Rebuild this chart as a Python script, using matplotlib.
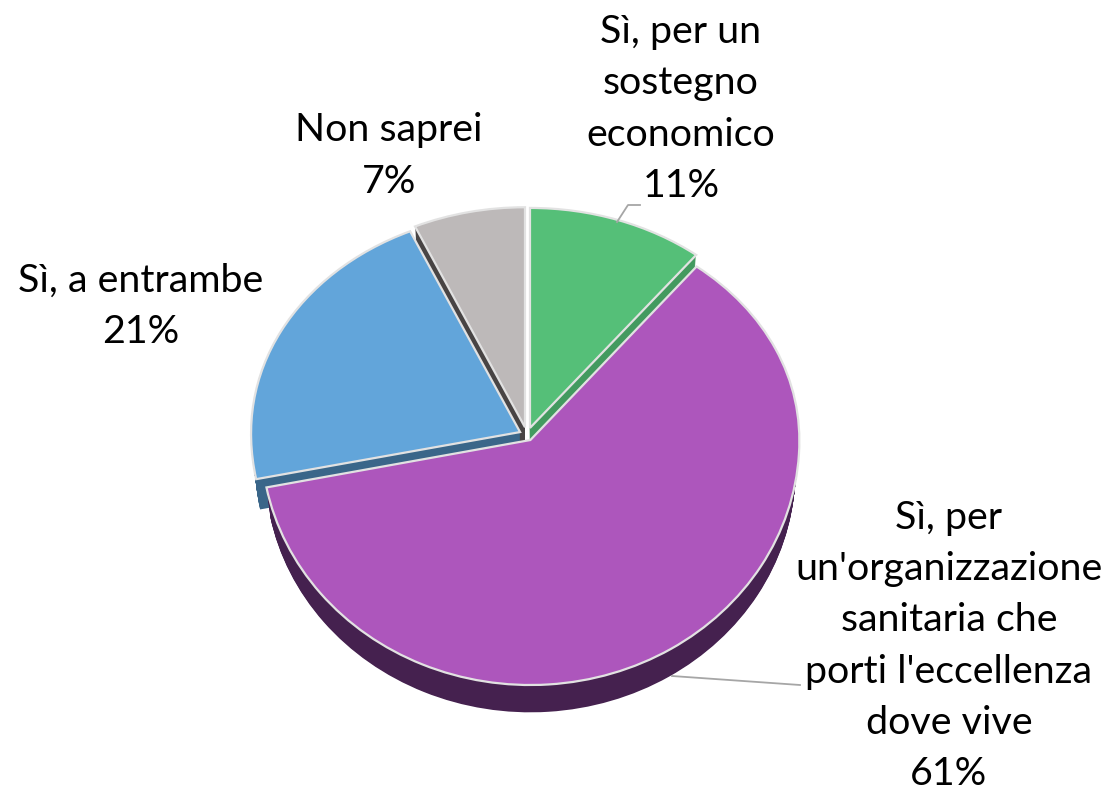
"""Exploded 3D-look pie chart, drawn as stacked flat pies on a warped y axis."""

import matplotlib

matplotlib.use("Agg")
import matplotlib.pyplot as plt
import numpy as np
from matplotlib.lines import Line2D

W, H = 1109, 791

categories = [
    "Sì, per un\nsostegno\neconomico",
    "Sì, per\nun'organizzazione\nsanitaria che\nporti l'eccellenza\ndove vive",
    "Sì, a entrambe",
    "Non saprei",
]
# unrounded shares; labels show them rounded
values = [10.6, 61.3, 21.4, 6.7]
explode = [0.034, 0.024, 0.029, 0.036]
top_colors = ["#55bf78", "#ad56bc", "#62a5da", "#bdb9b9"]
wall_colors = ["#439a5f", "#45214f", "#3a6689", "#484444"]
label_xy = [(681, 109), (949, 646), (141, 306), (389, 156)]

plt.rcParams["font.family"] = ["Lato", "DejaVu Sans"]

# pixels per data unit; the far half of the pie is foreshortened
CX, CY = 527, 435
SX, S_UP, S_DOWN = 269, 220, 245
DEPTH_PX = 31
SHRINK = 0.015  # underside is a bit smaller than the top face


def warp(y):
    y = np.asarray(y, dtype=float)
    return np.where(y > 0, y * S_UP, y * S_DOWN)


def unwarp(y):
    y = np.asarray(y, dtype=float)
    return np.where(y > 0, y / S_UP, y / S_DOWN)


fig = plt.figure(figsize=(W / 100, H / 100), dpi=100)
ax = fig.add_axes([0, 0, 1, 1])

# side walls: the same pie repeated downwards, then the top face over it
for px in range(DEPTH_PX, 0, -1):
    ax.pie(values, explode=explode, colors=wall_colors, startangle=90,
           counterclock=False, center=(0, -px / S_DOWN),
           radius=1 - SHRINK * px / DEPTH_PX, wedgeprops={"linewidth": 0})
ax.pie(values, explode=explode, colors=top_colors, startangle=90,
       counterclock=False, center=(0, 0), radius=1,
       wedgeprops={"linewidth": 1.6, "edgecolor": "#e2e2e2"})

ax.set_aspect("auto")
ax.set_yscale("function", functions=(warp, unwarp))
ax.set_xlim(-CX / SX, (W - CX) / SX)
ax.set_ylim(-(H - CY) / S_DOWN, CY / S_UP)
ax.axis("off")

# leader lines
for xs, ys in [((617, 628, 640), (222, 205, 205)), ((672, 800), (676, 685))]:
    fig.add_artist(Line2D([x / W for x in xs], [1 - y / H for y in ys],
                          color="#a6a6a6", lw=1.3))

for cat, val, (x, y) in zip(categories, values, label_xy):
    fig.text(x / W, 1 - y / H, f"{cat}\n{val:.0f}%", ha="center", va="center",
             fontsize=28.4, color="#000000", linespacing=1.53)

fig.savefig("out.png", dpi=100)
plt.close(fig)
